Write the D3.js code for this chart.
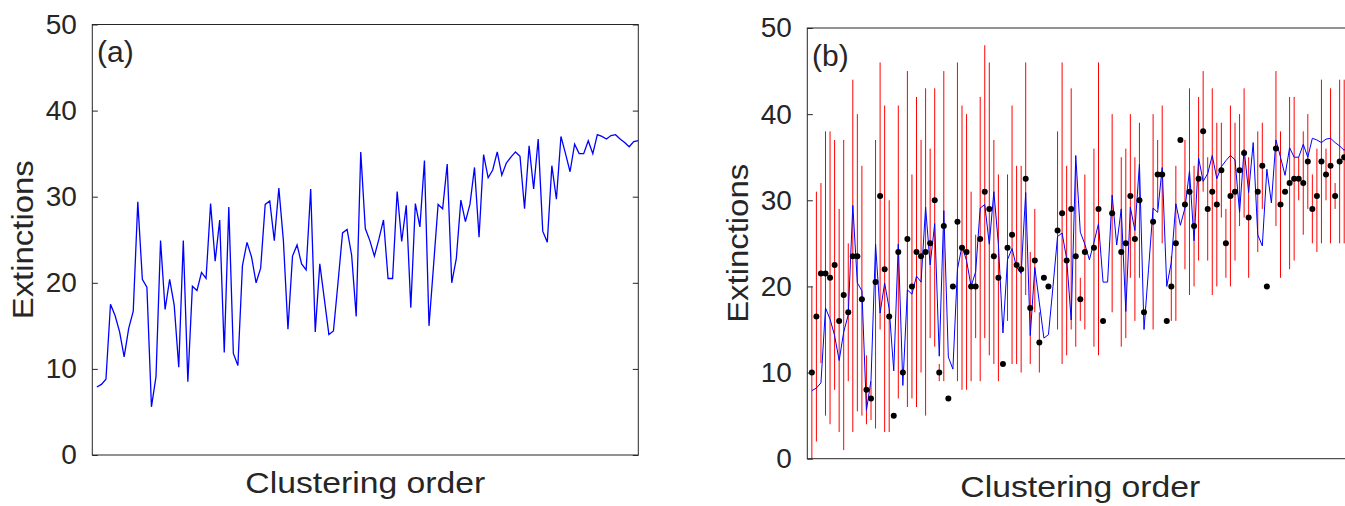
<!DOCTYPE html>
<html>
<head>
<meta charset="utf-8">
<script src="https://cdn.jsdelivr.net/npm/d3@7/dist/d3.min.js"></script>
<style>
  html, body { margin: 0; padding: 0; background: #ffffff; overflow: hidden; }
  svg { display: block; }
  text { font-family: "Liberation Sans", Arial, Helvetica, sans-serif; fill: #262626; }
</style>
</head>
<body>
<svg id="chart" width="1345" height="506"></svg>
<script>
// Extinctions per community, in clustering order (mean over runs)
const meanExtinctions = [
  7.9, 8.2, 8.8, 17.5, 16.2, 14.3, 11.4, 14.7, 16.7, 29.4,
  20.4, 19.5, 5.6, 9.1, 24.9, 16.9, 20.4, 17.4, 10.2, 24.9,
  8.5, 19.6, 19.1, 21.2, 20.5, 29.2, 22.5, 27.3, 11.9, 28.8,
  11.8, 10.4, 22.0, 24.7, 23.0, 20.0, 21.7, 29.1, 29.5, 24.9,
  31.0, 24.9, 14.6, 23.1, 24.4, 22.2, 21.5, 30.9, 14.3, 22.2,
  18.1, 14.0, 14.4, 20.0, 25.8, 26.2, 23.2, 16.1, 35.2, 26.3,
  24.9, 23.1, 25.1, 27.3, 20.5, 20.5, 30.6, 24.8, 29.0, 17.1,
  29.2, 26.5, 34.2, 15.0, 22.0, 29.1, 28.6, 33.8, 20.0, 22.8,
  29.6, 27.1, 29.1, 33.4, 25.3, 34.9, 32.2, 33.1, 35.2, 32.5,
  33.9, 34.6, 35.2, 34.7, 28.6, 35.9, 30.9, 36.7, 26.0, 24.7,
  33.6, 29.7, 37.0, 35.0, 32.9, 36.1, 35.0, 35.0, 36.5, 35.0,
  37.2, 37.0, 36.7, 37.1, 37.2, 36.7, 36.3, 35.8, 36.4, 36.5
];

// Observed extinctions (null where not available)
const observed = [
  10.0, 16.5, 21.5, 21.5, 21.0, 22.5, 16.0, 19.0, 17.0, 23.5,
  23.5, 18.5, 8.0, 7.0, 20.5, 30.5, 22.0, 16.5, 5.0, 24.0,
  10.0, 25.5, 20.0, 24.0, 23.5, 24.0, 25.0, 30.0, 10.0, 27.0,
  7.0, 20.0, 27.5, 24.5, 24.0, 20.0, 20.0, 25.5, 31.0, 29.0,
  23.5, 21.0, 11.0, 24.5, 26.0, 22.5, 22.0, 32.5, 17.5, 23.0,
  13.5, 21.0, 20.0, null, 26.5, 28.5, 23.0, 29.0, 23.5, 18.5,
  24.0, null, 24.5, 29.0, 16.0, null, 28.5, null, 24.0, 25.0,
  30.5, 25.5, 30.0, 17.0, null, 27.5, 33.0, 33.0, 16.0, 20.0,
  25.0, 37.0, 29.5, 31.0, 27.0, 32.5, 38.0, 29.0, 31.0, 29.5,
  33.5, 25.0, 30.5, 31.0, 33.5, 35.5, 28.0, null, 31.0, 34.0,
  20.0, null, 36.0, 29.5, 31.0, 32.0, 32.5, 32.5, 32.0, 34.5,
  29.0, 30.5, 34.5, 33.0, 34.0, 30.5, 34.5, 35.0, 35.5, 36.0
];

// Range of extinctions across runs: lower and upper ends (null where not available)
const rangeLow = [
  0.0, 2.0, 11.1, 5.0, 4.0, 8.0, 3.1, 1.0, 9.0, 3.1,
  5.5, 5.0, 4.0, 4.5, 3.5, 15.0, 3.1, 3.1, null, 7.0,
  null, 6.0, 7.0, 6.0, 10.0, 5.0, 14.0, 13.0, 9.0, 9.0,
  null, null, 9.0, 8.0, 8.0, 9.0, 14.0, 9.0, 14.0, 12.0,
  11.0, 9.0, null, 16.0, 11.0, 11.0, 10.0, 19.0, 11.0, 17.0,
  10.0, null, null, null, 15.0, 11.0, 12.0, 15.0, 13.0, 16.0,
  15.0, null, 13.0, 12.0, null, null, 17.0, null, 13.0, 14.0,
  21.0, 16.0, 21.0, null, null, 15.0, 29.0, 25.0, null, 16.0,
  16.0, null, 22.0, 19.0, 20.0, 23.0, 31.0, 23.0, 19.0, 20.0,
  28.0, 21.0, 20.0, 23.0, 27.0, 28.0, 21.0, null, 24.0, 29.0,
  null, null, 27.0, 21.0, null, 22.0, 23.0, 30.0, 26.0, 29.0,
  25.0, 24.0, 25.0, 30.0, 25.0, 29.0, 25.0, 25.0, 26.0, 27.0
];
const rangeHigh = [
  20.0, 31.0, 32.0, 38.0, 38.0, 37.0, 29.0, 37.0, 25.0, 44.0,
  40.0, 34.0, 12.0, 9.0, 37.0, 46.0, 41.0, 30.0, null, 41.0,
  null, 45.0, 33.0, 42.0, 37.0, 43.0, 36.0, 43.0, 11.0, 45.0,
  null, null, 46.0, 41.0, 40.0, 31.0, 26.0, 42.0, 48.0, 46.0,
  37.0, 33.0, null, 33.0, 41.0, 34.0, 34.0, 46.0, 24.0, 29.0,
  17.0, null, null, null, 38.0, 46.0, 34.0, 43.0, 34.0, 21.0,
  33.0, null, 36.0, 46.0, null, null, 40.0, null, 35.0, 36.0,
  40.0, 35.0, 39.0, null, null, 40.0, 37.0, 41.0, null, 23.5,
  34.0, null, 37.0, 43.0, 34.0, 42.0, 45.0, 35.0, 43.0, 39.0,
  39.0, 29.0, 41.0, 39.0, 40.0, 43.0, 35.0, null, 38.0, 39.0,
  null, null, 45.0, 38.0, null, 42.0, 42.0, 35.0, 38.0, 40.0,
  33.0, 36.0, 44.0, 36.0, 43.0, 32.0, 44.0, 44.0, 43.0, 44.0
];

const yTicks = [0, 10, 20, 30, 40, 50];
const panelLetters = ["(a)", "(b)"];
const xAxisTitle = "Clustering order";
const yAxisTitle = "Extinctions";

const svg = d3.select("#chart");
const axisColor = "#262626";

// Plot-area geometry of the two panels
const panels = [
  { left: 92.3, top: 24.5, width: 546, height: 430.5 },
  { left: 807.3, top: 28, width: 546, height: 430.7 }
];

function drawFrame(g, p, x, y, letter) {
  // box
  g.append("rect")
    .attr("x", p.left).attr("y", p.top)
    .attr("width", p.width).attr("height", p.height)
    .attr("fill", "none").attr("stroke", axisColor).attr("stroke-width", 1);

  // inward ticks on left and right edges
  const tickLen = 5.5;
  const yl = d3.axisLeft(y).tickValues(yTicks).tickSize(-tickLen).tickPadding(10 + tickLen).tickFormat(d3.format("d"));
  const yr = d3.axisRight(y).tickValues(yTicks).tickSize(-tickLen).tickFormat("");
  const gl = g.append("g").attr("transform", `translate(${p.left},0)`).call(yl);
  const gr = g.append("g").attr("transform", `translate(${p.left + p.width},0)`).call(yr);
  [gl, gr].forEach(a => {
    a.select(".domain").remove();
    a.selectAll(".tick line").attr("stroke", axisColor);
  });
  gl.selectAll(".tick text")
    .attr("fill", axisColor)
    .style("font-size", "28px")
    .style("font-family", '"Liberation Sans", Arial, Helvetica, sans-serif');

  // titles
  g.append("text")
    .attr("x", p.left + p.width / 2).attr("y", p.top + p.height + 38)
    .attr("text-anchor", "middle")
    .attr("textLength", 240).attr("lengthAdjust", "spacingAndGlyphs")
    .style("font-size", "30px")
    .text(xAxisTitle);

  g.append("text")
    .attr("transform", `translate(${p.left - 59.3},${p.top + p.height / 2}) rotate(-90)`)
    .attr("text-anchor", "middle")
    .attr("textLength", 159).attr("lengthAdjust", "spacingAndGlyphs")
    .style("font-size", "30px")
    .text(yAxisTitle);

  g.append("text")
    .attr("x", p.left + 4.7).attr("y", p.top + 37.5)
    .style("font-size", "30px")
    .text(letter);
}

// ---- Panel (a): mean extinctions only
{
  const p = panels[0];
  const x = d3.scaleLinear().domain([0, 120]).range([p.left, p.left + p.width]);
  const y = d3.scaleLinear().domain([0, 50]).range([p.top + p.height, p.top]);
  const g = svg.append("g");

  g.append("path")
    .datum(meanExtinctions)
    .attr("fill", "none")
    .attr("stroke", "#0000ff")
    .attr("stroke-width", 1.3)
    .attr("stroke-linejoin", "miter")
    .attr("d", d3.line().x((d, i) => x(i + 1)).y(d => y(d)));

  drawFrame(g, p, x, y, panelLetters[0]);
}

// ---- Panel (b): ranges, mean line and observed values
{
  const p = panels[1];
  const x = d3.scaleLinear().domain([0, 120]).range([p.left, p.left + p.width]);
  const y = d3.scaleLinear().domain([0, 50]).range([p.top + p.height, p.top]);
  const g = svg.append("g");

  const ranges = rangeLow.map((lo, i) => ({ i, lo, hi: rangeHigh[i] }))
    .filter(r => r.lo !== null && r.hi !== null);

  g.append("g").selectAll("line")
    .data(ranges)
    .join("line")
    .attr("x1", r => x(r.i + 1)).attr("x2", r => x(r.i + 1))
    .attr("y1", r => y(r.lo)).attr("y2", r => y(r.hi))
    .attr("stroke", "#ff0000")
    .attr("stroke-width", 1);

  g.append("path")
    .datum(meanExtinctions)
    .attr("fill", "none")
    .attr("stroke", "#0000ff")
    .attr("stroke-width", 1)
    .attr("d", d3.line().x((d, i) => x(i + 1)).y(d => y(d)));

  const pts = observed.map((v, i) => ({ i, v })).filter(d => d.v !== null);
  g.append("g").selectAll("circle")
    .data(pts)
    .join("circle")
    .attr("cx", d => x(d.i + 1))
    .attr("cy", d => y(d.v))
    .attr("r", 3)
    .attr("fill", "#000000");

  drawFrame(g, p, x, y, panelLetters[1]);
}
</script>
</body>
</html>
